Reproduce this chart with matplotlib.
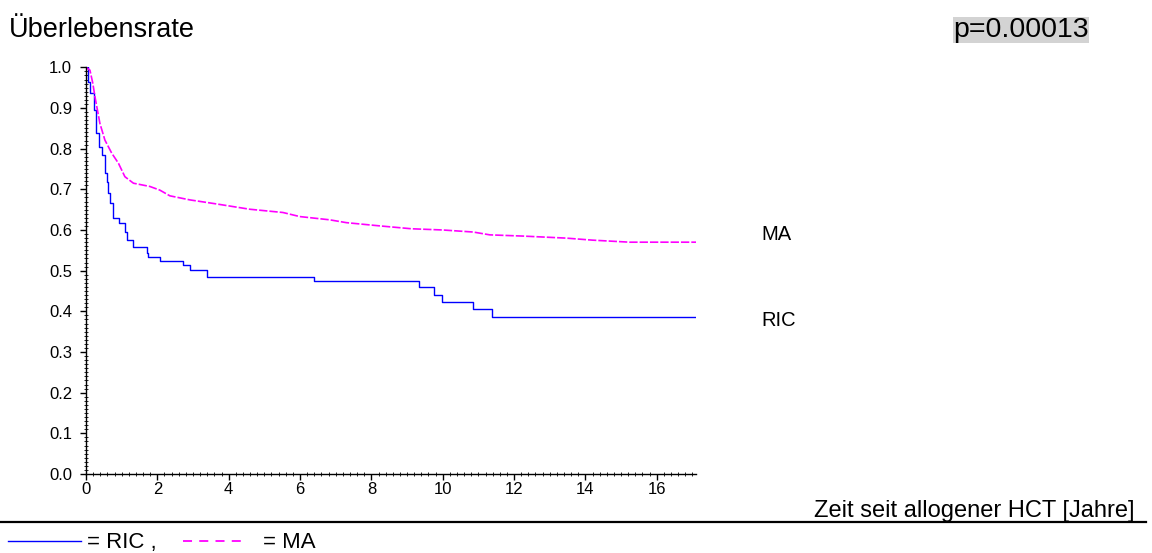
import matplotlib
matplotlib.use("Agg")
import matplotlib.pyplot as plt
from matplotlib.lines import Line2D
from matplotlib.ticker import MultipleLocator, FormatStrFormatter

plt.rcParams['font.family'] = ['Liberation Sans', 'DejaVu Sans']

# Kaplan-Meier estimates (years, survival)
ric_t = [0, 0.06, 0.11, 0.23, 0.28, 0.37, 0.44, 0.53, 0.58, 0.62, 0.67, 0.77,
         0.93, 1.09, 1.16, 1.33, 1.70, 1.74, 2.07, 2.71, 2.91, 3.38, 6.39,
         9.33, 9.76, 9.99, 10.86, 11.38, 17.13]
ric_s = [1.0, 0.965, 0.936, 0.895, 0.838, 0.805, 0.784, 0.740, 0.719, 0.690,
         0.666, 0.630, 0.616, 0.596, 0.575, 0.559, 0.543, 0.533, 0.524, 0.514,
         0.502, 0.485, 0.4745, 0.459, 0.440, 0.424, 0.406, 0.387, 0.387]

ma_t = [0, 0.11, 0.19, 0.25, 0.32, 0.39, 0.53, 0.72, 0.91, 1.09, 1.33, 1.79,
        2.07, 2.35, 2.91, 3.66, 4.59, 5.52, 5.99, 6.83, 7.30, 8.24, 9.12,
        10.0, 10.85, 11.32, 12.25, 13.46, 14.2, 15.24, 17.13]
ma_s = [1.0, 0.993, 0.961, 0.928, 0.895, 0.862, 0.821, 0.789, 0.764, 0.731,
        0.715, 0.707, 0.698, 0.684, 0.674, 0.664, 0.651, 0.643, 0.633, 0.625,
        0.618, 0.610, 0.603, 0.600, 0.595, 0.588, 0.585, 0.580, 0.575, 0.570,
        0.570]

x_ticks = [0, 2, 4, 6, 8, 10, 12, 14, 16]
y_ticks = [0.0, 0.1, 0.2, 0.3, 0.4, 0.5, 0.6, 0.7, 0.8, 0.9, 1.0]

W, H = 1152, 553
fig = plt.figure(figsize=(W / 100, H / 100), dpi=100)
ax = fig.add_axes([86 / W, (H - 474) / H, (696 - 86) / W, (474 - 67.3) / H])

ax.step(ric_t, ric_s, where='post', color='#0000ff', lw=1.0)
ax.plot(ma_t, ma_s, color='#ff00ff', lw=1.2, dashes=(5, 1.2))

ax.set_xlim(0, 17.1)
ax.set_ylim(0, 1.0)
ax.set_xticks(x_ticks)
ax.set_yticks(y_ticks)
ax.yaxis.set_major_formatter(FormatStrFormatter('%.1f'))
ax.xaxis.set_minor_locator(MultipleLocator(0.2))
ax.yaxis.set_minor_locator(MultipleLocator(0.01))
ax.tick_params(which='major', direction='out', length=4, width=1, labelsize=12, pad=2)
ax.tick_params(axis='y', which='major', pad=6)
ax.tick_params(which='minor', direction='inout', length=2.5, width=0.6)
for s in ['top', 'right']:
    ax.spines[s].set_visible(False)
for s in ['left', 'bottom']:
    ax.spines[s].set_linewidth(1.0)

# curve labels
ax.text(18.93, 0.588, 'MA', fontsize=14.5, va='center', ha='left', clip_on=False)
ax.text(18.93, 0.377, 'RIC', fontsize=14.5, va='center', ha='left', clip_on=False)

# header texts
fig.text(9 / W, (H - 36.7) / H, 'Überlebensrate', fontsize=19.5, va='baseline', ha='left')
fig.text(953 / W, (H - 36.7) / H, 'p=0.00013', fontsize=20.5, va='baseline', ha='left',
         bbox=dict(facecolor='#d3d3d3', edgecolor='none', pad=0))

fig.text(1135 / W, (H - 516.7) / H, 'Zeit seit allogener HCT [Jahre]', fontsize=17,
         va='baseline', ha='right')

# separator line
fig.add_artist(Line2D([0, 1146 / W], [(H - 522) / H] * 2, color='black', lw=1.6,
                      transform=fig.transFigure))

# legend line
ly = (H - 541) / H
fig.add_artist(Line2D([8 / W, 81 / W], [ly, ly], color='#0000ff', lw=1.0,
                      transform=fig.transFigure))
fig.text(87 / W, (H - 548.3) / H, '= RIC ,', fontsize=16, va='baseline', ha='left')
fig.add_artist(Line2D([183 / W, 248 / W], [ly, ly], color='#ff00ff', lw=1.3,
                      dashes=(5, 4), transform=fig.transFigure))
fig.text(263 / W, (H - 548.3) / H, '= MA', fontsize=16, va='baseline', ha='left')

fig.savefig('out.png', dpi=100)
